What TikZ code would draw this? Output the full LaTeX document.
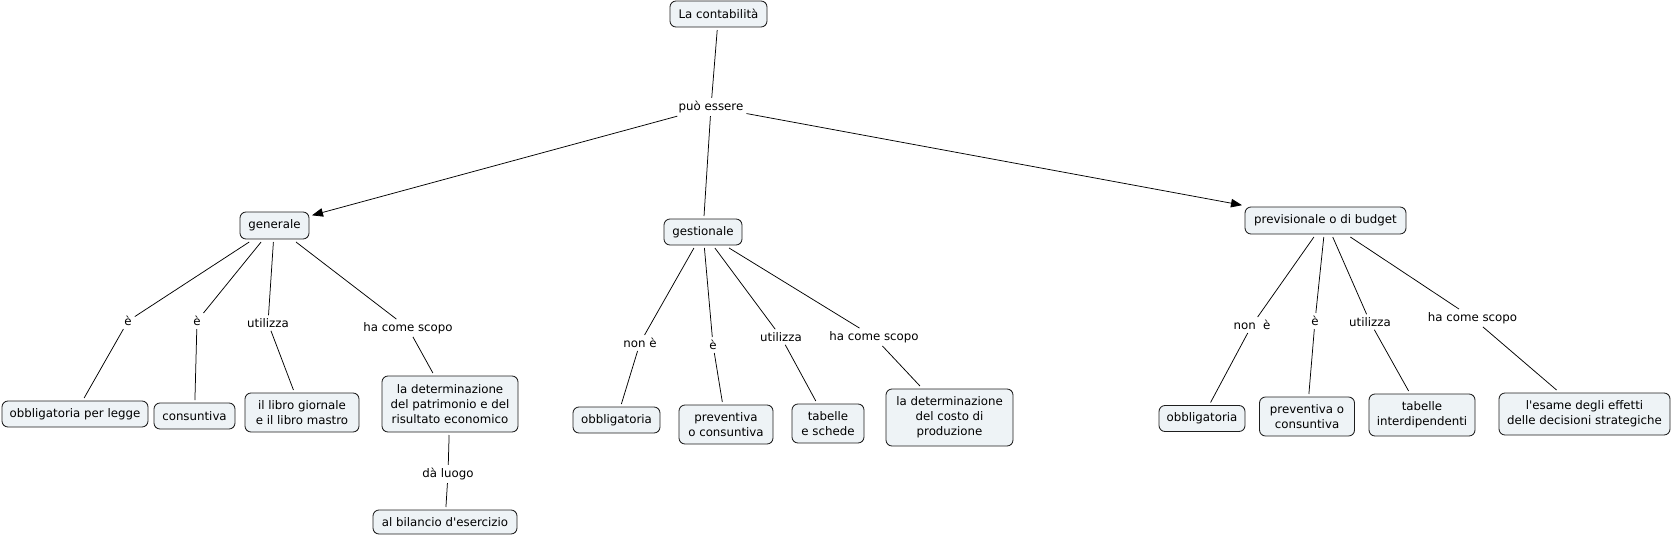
\documentclass[tikz,border=0pt]{standalone}
\usepackage{fontspec}
\setmainfont{DejaVu Sans}
\usetikzlibrary{arrows.meta}
\definecolor{boxfill}{RGB}{238,243,246}
\definecolor{boxline}{RGB}{30,30,30}
\begin{document}
\begin{tikzpicture}[x=1pt,y=-1pt,
  concept/.style={draw=boxline, fill=boxfill, rounded corners=6pt, line width=0.85pt,
    inner sep=0pt, outer sep=3pt, align=center, font=\fontsize{11.8}{15}\selectfont},
  lbl/.style={inner sep=3pt, align=center, font=\fontsize{11.8}{15}\selectfont},
  link/.style={draw=black, line width=0.75pt},
  arr/.style={link, -{Triangle[length=11pt,width=8.5pt]}}]
\useasboundingbox (0,0) rectangle (1672,536);

% top
\node[concept, minimum width=97pt, minimum height=26pt] (top) at (718.5,14) {La contabilità};
\node[lbl] (puo) at (711,107) {può essere};

% level 1
\node[concept, minimum width=69pt, minimum height=27pt] (gen) at (274.5,225.5) {generale};
\node[concept, minimum width=78pt, minimum height=26pt] (ges) at (703,232) {gestionale};
\node[concept, minimum width=161pt, minimum height=27pt] (prev) at (1325.5,220.5) {previsionale o di budget};

% generale children
\node[lbl] (g1) at (128,321) {è};
\node[lbl] (g2) at (197,321) {è};
\node[lbl] (g3) at (268,323) {utilizza};
\node[lbl] (g4) at (408,328) {ha come scopo};
\node[concept, minimum width=146pt, minimum height=26pt] (gc1) at (75,414) {obbligatoria per legge};
\node[concept, minimum width=81pt, minimum height=26pt] (gc2) at (194.5,416) {consuntiva};
\node[concept, minimum width=114pt, minimum height=39pt] (gc3) at (302,412.5) {il libro giornale\\e il libro mastro};
\node[concept, minimum width=136pt, minimum height=56pt] (gc4) at (450,404) {la determinazione\\del patrimonio e del\\risultato economico};
\node[lbl] (g5) at (448,474) {dà luogo};
\node[concept, minimum width=144pt, minimum height=24pt] (gc5) at (445,522) {al bilancio d\textquotesingle esercizio};

% gestionale children
\node[lbl] (s1) at (640,343) {non è};
\node[lbl] (s2) at (713,345) {è};
\node[lbl] (s3) at (781,337) {utilizza};
\node[lbl] (s4) at (874,337) {ha come scopo};
\node[concept, minimum width=87pt, minimum height=26pt] (sc1) at (616.5,420) {obbligatoria};
\node[concept, minimum width=94pt, minimum height=39pt] (sc2) at (726,424.5) {preventiva\\o consuntiva};
\node[concept, minimum width=72pt, minimum height=39pt] (sc3) at (828,423.5) {tabelle\\e schede};
\node[concept, minimum width=127pt, minimum height=57pt] (sc4) at (949.5,417.5) {la determinazione\\del costo di\\produzione};

% previsionale children
\node[lbl] (p1) at (1252,325) {non~ è};
\node[lbl] (p2) at (1315,321) {è};
\node[lbl] (p3) at (1370,322) {utilizza};
\node[lbl] (p4) at (1472.5,318) {ha come scopo};
\node[concept, minimum width=86pt, minimum height=26pt] (pc1) at (1202,418.5) {obbligatoria};
\node[concept, minimum width=95pt, minimum height=39pt] (pc2) at (1307,416.5) {preventiva o\\consuntiva};
\node[concept, minimum width=106pt, minimum height=42pt] (pc3) at (1422,415) {tabelle\\interdipendenti};
\node[concept, minimum width=171pt, minimum height=42pt] (pc4) at (1584.5,414) {l\textquotesingle esame degli effetti\\delle decisioni strategiche};

% connectors
\draw[link] (top) -- (puo);
\draw[arr] (puo) -- (gen);
\draw[link] (puo) -- (ges);
\draw[arr] (puo) -- (prev);

\draw[link] (gen) -- (g1); \draw[link] (g1) -- (gc1);
\draw[link] (gen) -- (g2); \draw[link] (g2) -- (gc2);
\draw[link] (gen) -- (g3); \draw[link] (g3) -- (gc3);
\draw[link] (gen) -- (g4); \draw[link] (g4) -- (gc4);
\draw[link] (gc4) -- (g5); \draw[link] (g5) -- (gc5);

\draw[link] (ges) -- (s1); \draw[link] (s1) -- (sc1);
\draw[link] (ges) -- (s2); \draw[link] (s2) -- (sc2);
\draw[link] (ges) -- (s3); \draw[link] (s3) -- (sc3);
\draw[link] (ges) -- (s4); \draw[link] (s4) -- (sc4);

\draw[link] (prev) -- (p1); \draw[link] (p1) -- (pc1);
\draw[link] (prev) -- (p2); \draw[link] (p2) -- (pc2);
\draw[link] (prev) -- (p3); \draw[link] (p3) -- (pc3);
\draw[link] (prev) -- (p4); \draw[link] (p4) -- (pc4);
\end{tikzpicture}
\end{document}
